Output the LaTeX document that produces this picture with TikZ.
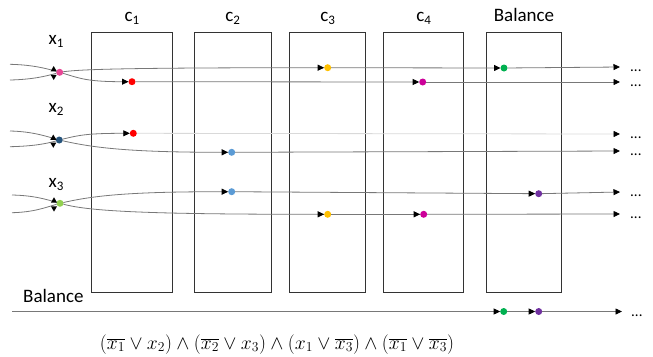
\documentclass[tikz,border=0pt]{standalone}
\usepackage{graphicx}
\usepackage{fontspec}
\setmainfont{Carlito}
\usetikzlibrary{arrows.meta,shapes.geometric}
\newcommand\lowsub[1]{\raisebox{-3.5bp}{\fontsize{13bp}{13bp}\selectfont #1}}
\definecolor{wiregray}{RGB}{120,120,120}
\definecolor{vpink}{RGB}{232,72,150}
\definecolor{vblue}{RGB}{38,84,124}
\definecolor{vgreen}{RGB}{146,208,80}
\definecolor{dred}{RGB}{255,0,0}
\definecolor{dblue}{RGB}{91,155,213}
\definecolor{dyellow}{RGB}{255,192,0}
\definecolor{dmag}{RGB}{204,0,153}
\definecolor{dgreen}{RGB}{0,176,80}
\definecolor{dpurple}{RGB}{112,48,160}
\begin{document}
\begin{tikzpicture}[x=1bp,y=-1bp,
  lbl/.style={font=\fontsize{19bp}{22bp}\selectfont, inner sep=0pt, anchor=base},
  box/.style={draw=black!80, line width=0.9bp, minimum height=260bp, inner sep=0pt, outer sep=0pt},
  dot/.style={circle, fill=#1, inner sep=0pt, outer sep=0pt, minimum size=7bp},
  wire/.style={draw=wiregray, line width=0.8bp, -{Triangle[length=6.5bp,width=6bp,color=black]}},
  faint/.style={draw=black!15, line width=0.8bp, -{Triangle[length=6.5bp,width=6bp,color=black]}},
  plain/.style={draw=wiregray, line width=0.8bp},
  upmark/.style={regular polygon, regular polygon sides=3, fill=black, inner sep=0pt, minimum size=7bp},
  downmark/.style={upmark, shape border rotate=180},
  more/.style={font=\fontsize{15bp}{15bp}\selectfont, inner sep=0pt, anchor=base west}
]
\useasboundingbox (0,0) rectangle (653,356);

% boxes
\node[box, minimum width=81bp] (c1) at (131.8,162) {};
\node[box, minimum width=76.7bp] (c2) at (232.7,162) {};
\node[box, minimum width=76bp] (c3) at (327.7,162) {};
\node[box, minimum width=80bp] (c4) at (423.6,162) {};
\node[box, minimum width=75bp] (cb) at (524,162) {};

% box labels
\node[lbl] (l1) at (132,21) {c\lowsub{1}};
\node[lbl] (l2) at (232.7,21) {c\lowsub{2}};
\node[lbl] (l3) at (327.7,21) {c\lowsub{3}};
\node[lbl] (l4) at (423.6,21) {c\lowsub{4}};
\node[lbl] (lb) at (524,21) {Balance};

% variable labels
\node[lbl] (xl1) at (56,44) {x\lowsub{1}};
\node[lbl] (xl2) at (56,112) {x\lowsub{2}};
\node[lbl] (xl3) at (56,187) {x\lowsub{3}};

% variable dots
\node[dot=vpink] (v1) at (59.7,72.3) {};
\node[dot=vblue] (v2) at (59.3,140) {};
\node[dot=vgreen] (v3) at (60,203.3) {};

% clause dots
\node[dot=dyellow] (y1) at (327.7,67.7) {};
\node[dot=dgreen] (g1) at (504,68) {};
\node[dot=dred] (r1) at (132,81.7) {};
\node[dot=dmag] (m1) at (422.7,82) {};
\node[dot=dred] (r2) at (133.3,133.3) {};
\node[dot=dblue] (b2) at (231.7,152.3) {};
\node[dot=dblue] (b3) at (231.7,191.7) {};
\node[dot=dpurple] (p3) at (538.7,193.7) {};
\node[dot=dyellow] (y3) at (327.7,214.3) {};
\node[dot=dmag] (m3) at (423.7,214.3) {};
\node[dot=dgreen] (g4) at (503.7,311.5) {};
\node[dot=dpurple] (p4) at (538.7,311.5) {};

% free ends
\coordinate (e1) at (620,67);
\coordinate (e2) at (620,82);
\coordinate (e3) at (620,134);
\coordinate (e4) at (620,151);
\coordinate (e5) at (620,192);
\coordinate (e6) at (620,214);
\coordinate (e7) at (622,311.5);
\coordinate (s7) at (12,311.5);
\coordinate (i1a) at (10,64.3);
\coordinate (i1b) at (10,80);
\coordinate (i2a) at (10,131);
\coordinate (i2b) at (10,146.7);
\coordinate (i3a) at (12,195);
\coordinate (i3b) at (12,212.7);

% incoming lines
\draw[plain] (i1a) .. controls +(22,0.5) and +(-14,-4) .. (v1);
\draw[plain] (i1b) .. controls +(22,-0.5) and +(-14,4) .. (v1);
\draw[plain] (i2a) .. controls +(22,0.5) and +(-14,-4) .. (v2);
\draw[plain] (i2b) .. controls +(22,-0.5) and +(-14,4) .. (v2);
\draw[plain] (i3a) .. controls +(22,0.5) and +(-14,-4) .. (v3);
\draw[plain] (i3b) .. controls +(22,-0.5) and +(-14,4) .. (v3);

% marks near variables
\node[upmark] (t1u) at ([shift={(-6,-2.8)}]v1.center) {};
\node[downmark] (t1d) at ([shift={(-6,4.2)}]v1.center) {};
\node[upmark] (t2u) at ([shift={(-6,-2)}]v2.center) {};
\node[downmark] (t2d) at ([shift={(-6,4.3)}]v2.center) {};
\node[upmark] (t3u) at ([shift={(-6,-2.5)}]v3.center) {};
\node[downmark] (t3d) at ([shift={(-6,4.8)}]v3.center) {};

% x1 wires
\draw[wire] (v1) .. controls +(20,-3) and +(-200,0) .. (y1);
\draw[wire] (y1) -- (g1);
\draw[wire] (g1) -- (e1);
\draw[wire] (v1) .. controls +(20,6) and +(-45,0) .. (r1);
\draw[wire] (r1) -- (m1);
\draw[wire] (m1) -- (e2);
% x2 wires
\draw[wire] (v2) .. controls +(20,-5) and +(-45,0) .. (r2);
\draw[faint] (r2) -- (e3);
\draw[wire] (v2) .. controls +(35,8) and +(-100,0) .. (b2);
\draw[wire] (b2) -- (e4);
% x3 wires
\draw[wire] (v3) .. controls +(35,-8) and +(-100,0) .. (b3);
\draw[wire] (b3) -- (p3);
\draw[wire] (p3) -- (e5);
\draw[wire] (v3) .. controls +(30,8) and +(-180,0) .. (y3);
\draw[wire] (y3) -- (m3);
\draw[wire] (m3) -- (e6);
% balance wire
\draw[wire] (s7) -- (g4);
\draw[wire] (g4) -- (p4);
\draw[wire] (p4) -- (e7);

% continuation dots
\node[more] (d1) at (630,71.5) {...};
\node[more] (d2) at (630,86.5) {...};
\node[more] (d3) at (630,138.5) {...};
\node[more] (d4) at (630,155.5) {...};
\node[more] (d5) at (630,196.5) {...};
\node[more] (d6) at (630,218.5) {...};
\node[more] (d7) at (631,316) {...};

% balance label
\node[lbl, anchor=base west] (bl) at (23,302) {Balance};

% formula
\node[inner sep=0pt, anchor=base, font=\fontsize{17.28bp}{21bp}\selectfont] (f) at (277,349)
  {\resizebox{354bp}{!}{$(\overline{x_1}\vee x_2)\wedge(\overline{x_2}\vee x_3)\wedge(x_1\vee\overline{x_3})\wedge(\overline{x_1}\vee\overline{x_3})$}};
\end{tikzpicture}
\end{document}
